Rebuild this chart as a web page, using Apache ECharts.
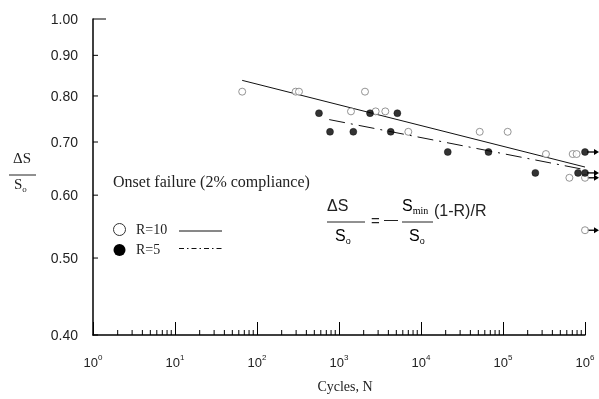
<!DOCTYPE html>
<html><head><meta charset="utf-8">
<script src="https://cdn.jsdelivr.net/npm/echarts@6/dist/echarts.min.js"></script>
<style>html,body{margin:0;padding:0;background:#fff}#c{width:599px;height:399px}</style>
</head><body><div id="c"></div>
<script>
// R=10 (open circles)
const r10N = [66, 296, 325, 2075, 1400, 2800, 3670, 7000, 52000, 114000, 334000, 708000, 790000, 645000, 1000000, 1000000];
const r10S = [0.81, 0.81, 0.81, 0.81, 0.765, 0.765, 0.765, 0.721, 0.721, 0.721, 0.676, 0.676, 0.676, 0.631, 0.631, 0.542];
// R=5 (filled circles)
const r5N = [570, 777, 1495, 2390, 4270, 5150, 21200, 66500, 248000, 822000, 1000000, 1000000];
const r5S = [0.761, 0.721, 0.721, 0.761, 0.721, 0.761, 0.68, 0.68, 0.64, 0.64, 0.64, 0.68];
// run-outs (arrows at 10^6)
const runoutN = 1000000;
const runoutR10 = [0.631, 0.542];
const runoutR5 = [0.68, 0.64];
// fitted lines
const fitR10N = [66, 1000000];
const fitR10S = [0.837, 0.651];
const fitR5N = [760, 1000000];
const fitR5S = [0.747, 0.646];
// ticks
const yTickValues = [0.40, 0.50, 0.60, 0.70, 0.80, 0.90, 1.00];
const yTickLabels = ['0.40', '0.50', '0.60', '0.70', '0.80', '0.90', '1.00'];
const xTickExponents = ['0', '1', '2', '3', '4', '5', '6'];

const SERIF = '"Liberation Serif", "Times New Roman", serif';
const SANS = '"Liberation Sans", Arial, sans-serif';

const zip = (a, b) => a.map((v, i) => [v, b[i]]);
const minorX = [];
for (let k = 0; k < 6; k++) for (let m = 2; m <= 9; m++) minorX.push([m * Math.pow(10, k), 0.4]);

const chart = echarts.init(document.getElementById('c'), null, {renderer: 'canvas'});
const option = {
  animation: false,
  backgroundColor: '#fff',
  grid: {left: 93, top: 19, right: 14, bottom: 63, containLabel: false},
  xAxis: {
    type: 'log', min: 1, max: 1000000, logBase: 10,
    axisLine: {show: true, lineStyle: {color: '#000', width: 1.5}},
    axisTick: {show: true, inside: true, length: 13, lineStyle: {color: '#000', width: 1}},
    splitLine: {show: false},
    axisLabel: {
      margin: 19,
      formatter: (v, i) => '{b|10}{s|' + xTickExponents[i] + '}',
      rich: {
        b: {fontFamily: SANS, fontSize: 13, color: '#222', lineHeight: 16, verticalAlign: 'bottom'},
        s: {fontFamily: SANS, fontSize: 8, color: '#222', lineHeight: 16, verticalAlign: 'top'}
      }
    },
    name: 'Cycles, N', nameLocation: 'middle', nameGap: 45,
    nameTextStyle: {fontFamily: SERIF, fontSize: 14, color: '#222', padding: [0, 0, 0, 12]}
  },
  yAxis: {
    type: 'log', min: 0.4, max: 1.0, logBase: 10,
    axisLine: {show: true, lineStyle: {color: '#000', width: 1.5}},
    axisTick: {show: false},
    axisLabel: {show: false},
    splitLine: {show: false}
  },
  series: [
    { // y ticks and labels
      type: 'custom', coordinateSystem: 'cartesian2d', clip: false, silent: true, z: 1,
      data: yTickValues.map((v, i) => [1, v, i]),
      renderItem(params, api) {
        const v = api.value(1);
        const i = api.value(2);
        const p = api.coord([1, v]);
        const len = Math.abs(v - 1) < 1e-9 ? 13 : 5;
        return {type: 'group', children: [
          {type: 'line', shape: {x1: p[0], y1: p[1], x2: p[0] + len, y2: p[1]}, style: {stroke: '#000', lineWidth: 1}},
          {type: 'text', style: {text: yTickLabels[i], x: p[0] - 15, y: p[1] + 1, align: 'right', verticalAlign: 'middle', textAlign: 'right', textVerticalAlign: 'middle', font: '14px ' + SANS, fill: '#222'}}
        ]};
      }
    },
    { // minor x ticks
      type: 'custom', coordinateSystem: 'cartesian2d', clip: false, silent: true, z: 1,
      data: minorX,
      renderItem(params, api) {
        const p = api.coord([api.value(0), api.value(1)]);
        return {type: 'line', shape: {x1: p[0], y1: p[1], x2: p[0], y2: p[1] - 5}, style: {stroke: '#000', lineWidth: 1}};
      }
    },
    {
      name: 'R=10 fit', type: 'line', data: zip(fitR10N, fitR10S), showSymbol: false, clip: false, z: 2,
      lineStyle: {color: '#111', width: 1, type: 'solid'}
    },
    {
      name: 'R=5 fit', type: 'line', data: zip(fitR5N, fitR5S), showSymbol: false, clip: false, z: 2,
      lineStyle: {color: '#111', width: 1, type: [16, 6, 2, 6]}
    },
    { // run-out arrows
      type: 'custom', coordinateSystem: 'cartesian2d', clip: false, silent: true, z: 3,
      data: runoutR10.concat(runoutR5).map(v => [runoutN, v]),
      renderItem(params, api) {
        const p = api.coord([api.value(0), api.value(1)]);
        return {type: 'group', children: [
          {type: 'line', shape: {x1: p[0] + 2, y1: p[1], x2: p[0] + 10, y2: p[1]}, style: {stroke: '#000', lineWidth: 1.3}},
          {type: 'polygon', shape: {points: [[p[0] + 9, p[1] - 3], [p[0] + 14, p[1]], [p[0] + 9, p[1] + 3]]}, style: {fill: '#000'}}
        ]};
      }
    },
    {
      name: 'R=10', type: 'scatter', data: zip(r10N, r10S), clip: false, z: 4,
      symbol: 'circle', symbolSize: 7,
      itemStyle: {color: '#fff', borderColor: '#7a7a7a', borderWidth: 1}
    },
    {
      name: 'R=5', type: 'scatter', data: zip(r5N, r5S), clip: false, z: 4,
      symbol: 'circle', symbolSize: 7,
      itemStyle: {color: '#000', borderColor: '#000', borderWidth: 0.5}
    }
  ],
  graphic: [
    // y axis title
    {type: 'text', left: 13, top: 152, style: {text: 'ΔS', font: '15px ' + SERIF, fill: '#222'}},
    {type: 'line', shape: {x1: 9, y1: 175, x2: 36, y2: 175}, style: {stroke: '#222', lineWidth: 1}},
    {type: 'text', left: 14, top: 178, style: {text: '{a|S}{b|o}', font: '15px ' + SERIF, fill: '#222',
      rich: {a: {fontFamily: SERIF, fontSize: 15, color: '#222', lineHeight: 17}, b: {fontFamily: SERIF, fontSize: 9, color: '#222', verticalAlign: 'bottom', lineHeight: 17}}}},
    // annotation
    {type: 'text', left: 113, top: 175, style: {text: 'Onset failure (2% compliance)', font: '16px ' + SERIF, fill: '#222'}},
    // legend
    {type: 'circle', shape: {cx: 119.5, cy: 229.5, r: 6}, style: {fill: '#fff', stroke: '#333', lineWidth: 1}},
    {type: 'circle', shape: {cx: 119.5, cy: 250, r: 6}, style: {fill: '#000'}},
    {type: 'text', left: 136, top: 223, style: {text: 'R=10', font: '14px ' + SERIF, fill: '#222'}},
    {type: 'text', left: 136, top: 243, style: {text: 'R=5', font: '14px ' + SERIF, fill: '#222'}},
    {type: 'line', shape: {x1: 179, y1: 231, x2: 222, y2: 231}, style: {stroke: '#111', lineWidth: 1}},
    {type: 'line', shape: {x1: 179, y1: 248.5, x2: 222, y2: 248.5}, style: {stroke: '#111', lineWidth: 1, lineDash: [5, 3, 1.5, 3]}},
    // formula
    {type: 'text', left: 327, top: 199, style: {text: 'ΔS', font: '16px ' + SANS, fill: '#222'}},
    {type: 'line', shape: {x1: 327, y1: 222, x2: 365, y2: 222}, style: {stroke: '#222', lineWidth: 1}},
    {type: 'text', left: 335, top: 229, style: {text: '{a|S}{b|o}', rich: {a: {fontFamily: SANS, fontSize: 16, color: '#222', lineHeight: 18}, b: {fontFamily: SANS, fontSize: 9, color: '#222', verticalAlign: 'bottom', lineHeight: 18}}}},
    {type: 'text', left: 371, top: 214, style: {text: '=', font: '15px ' + SANS, fill: '#222'}},
    {type: 'text', left: 384, top: 213, style: {text: '—', font: '14px ' + SANS, fill: '#222'}},
    {type: 'text', left: 402, top: 199, style: {text: '{a|S}{b|min}', rich: {a: {fontFamily: SANS, fontSize: 16, color: '#222', lineHeight: 18}, b: {fontFamily: SERIF, fontSize: 10, color: '#222', verticalAlign: 'bottom', lineHeight: 18}}}},
    {type: 'line', shape: {x1: 402, y1: 222, x2: 433, y2: 222}, style: {stroke: '#222', lineWidth: 1}},
    {type: 'text', left: 409, top: 229, style: {text: '{a|S}{b|o}', rich: {a: {fontFamily: SANS, fontSize: 16, color: '#222', lineHeight: 18}, b: {fontFamily: SANS, fontSize: 9, color: '#222', verticalAlign: 'bottom', lineHeight: 18}}}},
    {type: 'text', left: 434, top: 204, style: {text: '(1-R)/R', font: '16px ' + SANS, fill: '#222'}}
  ]
};
chart.setOption(option);
</script></body></html>
